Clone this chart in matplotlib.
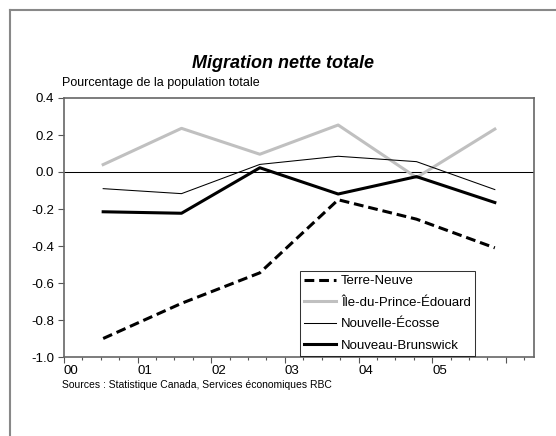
import matplotlib
matplotlib.use('Agg')
import matplotlib.pyplot as plt
from matplotlib.lines import Line2D
from matplotlib.ticker import FixedLocator, FixedFormatter, NullFormatter

# --- Données ---
years = ["00", "01", "02", "03", "04", "05"]
terre_neuve = [-0.90, -0.71, -0.545, -0.15, -0.255, -0.41]
ile_pe = [0.04, 0.236, 0.096, 0.254, -0.03, 0.232]
nouvelle_ecosse = [-0.09, -0.117, 0.041, 0.085, 0.056, -0.095]
nouveau_brunswick = [-0.215, -0.223, 0.023, -0.119, -0.025, -0.165]
y_ticks = [0.4, 0.2, 0.0, -0.2, -0.4, -0.6, -0.8, -1.0]
y_labels = ["0.4", "0.2", "0.0", "-0.2", "-0.4", "-0.6", "-0.8", "-1.0"]

plt.rcParams['font.family'] = ['Liberation Sans', 'DejaVu Sans']

W, H = 556, 436
fig = plt.figure(figsize=(W / 100, H / 100), dpi=100)

# cadre gris (haut et gauche)
fig.add_artist(Line2D([10 / W, 1], [1 - 10 / H, 1 - 10 / H], color='#888888', lw=1.5))
fig.add_artist(Line2D([10 / W, 10 / W], [0, 1 - 10 / H], color='#888888', lw=1.5))

ax = fig.add_axes([64 / W, 1 - 357 / H, (534 - 64) / W, (357 - 98) / H])

x = list(range(len(years)))
ax.plot(x, terre_neuve, color='black', lw=2.2, dashes=(3.2, 1.6), label='Terre-Neuve')
ax.plot(x, ile_pe, color='#c0c0c0', lw=2.2, label='Île-du-Prince-Édouard')
ax.plot(x, nouvelle_ecosse, color='black', lw=0.75, label='Nouvelle-Écosse')
ax.plot(x, nouveau_brunswick, color='black', lw=2.2, label='Nouveau-Brunswick')
ax.axhline(0, color='black', lw=0.75, zorder=0)

ax.set_xlim(-0.5, 5.5)
ax.set_ylim(-1.0, 0.4)

# axe des dates : un an = 0.94 catégorie
step = 0.94
major = [-0.5 + step * j for j in range(7)]
minor = [-0.5 + step * j / 4 for j in range(26)]
ax.xaxis.set_major_locator(FixedLocator(major))
ax.xaxis.set_major_formatter(FixedFormatter(years + [""]))
ax.xaxis.set_minor_locator(FixedLocator(minor))
ax.xaxis.set_minor_formatter(NullFormatter())

ax.yaxis.set_major_locator(FixedLocator(y_ticks))
ax.yaxis.set_major_formatter(FixedFormatter(y_labels))

ax.tick_params(axis='x', which='major', direction='out', length=4, width=0.8,
               color='#555555', labelsize=9.5, pad=2)
ax.tick_params(axis='x', which='minor', direction='out', length=2.5, width=0.8, color='#555555')
ax.tick_params(axis='y', direction='out', length=4, width=0.8, color='#555555',
               labelsize=9.5, pad=3)
for lbl in ax.get_xticklabels():
    lbl.set_horizontalalignment('left')

for s in ax.spines.values():
    s.set_color('#666666')
    s.set_linewidth(1.2)

leg = ax.legend(loc='upper left', bbox_to_anchor=(300 / W, 1 - 271 / H),
                bbox_transform=fig.transFigure, fontsize=9.5, frameon=True,
                fancybox=False, handlelength=2.4, handletextpad=0.4,
                borderpad=0.3, labelspacing=0.7, borderaxespad=0)
leg.get_frame().set_edgecolor('black')
leg.get_frame().set_linewidth(0.75)

fig.text(283 / W, 1 - 63 / H, "Migration nette totale", ha='center', va='center',
         fontsize=13, fontweight='bold', fontstyle='italic')
fig.text(62 / W, 1 - 83 / H, "Pourcentage de la population totale", ha='left',
         va='center', fontsize=9)
fig.text(62 / W, 1 - 385 / H, "Sources : Statistique Canada, Services économiques RBC",
         ha='left', va='center', fontsize=7.5)

fig.savefig('out.png', dpi=100)
